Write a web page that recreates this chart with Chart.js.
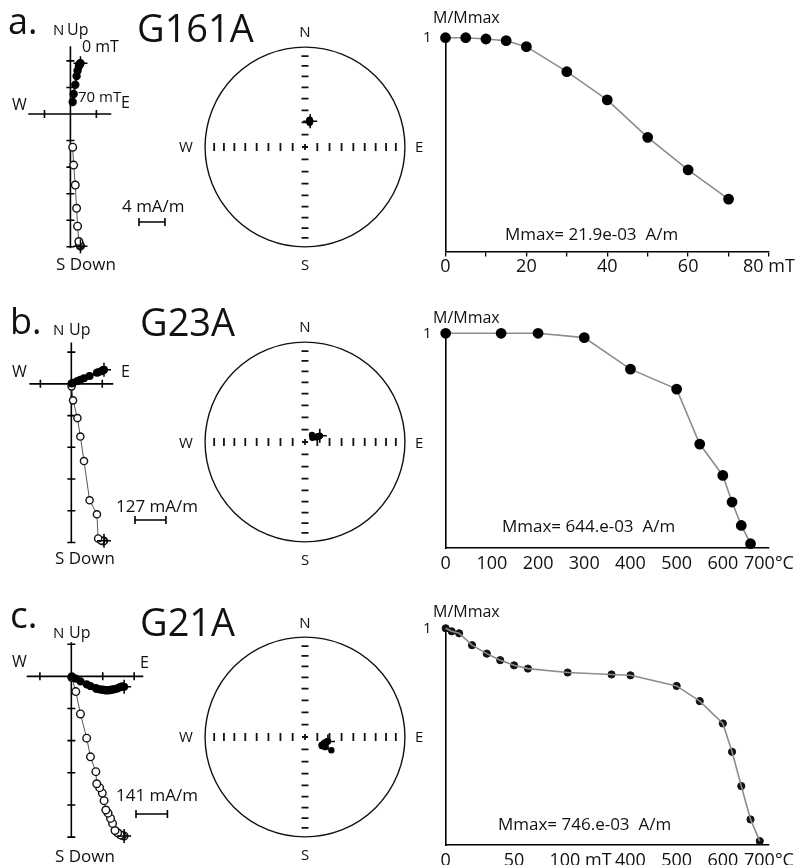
<!DOCTYPE html>
<html>
<head>
<meta charset="utf-8">
<title>Demagnetisation diagrams G161A, G23A, G21A</title>
<script src="https://cdn.jsdelivr.net/npm/chart.js@4.4.1/dist/chart.umd.min.js"></script>
<style>
  body { margin: 0; background: #fff; }
  #fig { position: relative; width: 795px; height: 865px; overflow: hidden; font-family: "Open Sans", sans-serif; color: #111; }
  #fig canvas { position: absolute; }
  .t { position: absolute; white-space: pre; line-height: 1; }
</style>
</head>
<body>
<div id="fig"></div>
<script>
// ---------- values ----------
// a. G161A  (AF steps, mT)
const aSteps = [0, 5, 10, 15, 20, 30, 40, 50, 60, 70];
const aMnorm = [1.0, 1.0, 0.994, 0.986, 0.958, 0.841, 0.709, 0.534, 0.382, 0.245];
const aEast  = [1.55, 1.5, 1.45, 1.4, 1.3, 1.1, 0.95, 0.75, 0.5, 0.35];   // mA/m
const aNorth = [7.65, 7.6, 7.5, 7.45, 7.2, 6.5, 5.7, 4.4, 3.0, 1.8];
const aDown  = [19.9, 19.8, 19.7, 19.6, 19.2, 16.9, 14.2, 10.7, 7.7, 5.0];
const aTicks = [0, 10, 20, 30, 40, 50, 60, 70, 80];
const aTickText = ['0', '', '20', '', '40', '', '60', '', '80 mT'];

// b. G23A  (thermal steps, °C)
const bSteps = [0, 120, 200, 300, 400, 500, 550, 600, 620, 640, 660];
const bMnorm = [1.0, 1.0, 1.0, 0.98, 0.833, 0.74, 0.484, 0.338, 0.214, 0.105, 0.02];
const bEast  = [134, 131, 122, 110, 105, 75, 52, 37, 25, 7, 1];           // mA/m
const bNorth = [56, 55, 50, 46, 44, 31, 22, 16, 11, 4, 1];
const bDown  = [628, 630, 627, 619, 522, 466, 309, 211, 137, 66, 10];
const bTicks = [0, 100, 200, 300, 400, 500, 600, 700];
const bTickText = ['0', '100', '200', '300', '400', '500', '600', '700°C'];

// c. G21A  (AF then thermal; position along the mixed axis)
const cStepPos = [0, 13, 29, 57, 89, 118, 148, 178, 264, 359, 400, 500, 550, 600, 620, 640, 660, 680];
const cMnorm = [1.0, 0.986, 0.977, 0.922, 0.883, 0.853, 0.829, 0.814, 0.796, 0.787, 0.783, 0.734, 0.664, 0.561, 0.43, 0.272, 0.118, 0.018];
const cEast  = [237, 229, 220, 208, 196, 185, 176, 165, 155, 147, 139, 127, 114, 110, 86, 69, 41, 20, 2];   // mA/m
const cNorth = [-46, -44, -47, -52, -56, -58, -60, -61, -61, -60, -59, -57, -54, -52, -43, -35, -22, -10, -1];
const cDown  = [700, 698, 695, 686, 676, 645, 623, 600, 586, 545, 512, 488, 471, 418, 353, 271, 165, 67, 5];
const cTicks = [0, 148, 292, 400, 500, 600, 700];
const cTickText = ['0', '50', '100 mT', '400', '500', '600', '700°C'];

const netTicks = [10, 20, 30, 40, 50, 60, 70, 80];   // inclination marks on the stereonet

// ---------- helpers ----------
Chart.defaults.font.family = "'Open Sans', sans-serif";
const fig = document.getElementById('fig');

function addCanvas(box) {
  const c = document.createElement('canvas');
  c.width = box.w; c.height = box.h;
  c.style.left = box.x + 'px'; c.style.top = box.y + 'px';
  c.style.width = box.w + 'px'; c.style.height = box.h + 'px';
  fig.appendChild(c);
  return c;
}

function text(str, x, base, size, align) {
  const d = document.createElement('div');
  d.className = 't';
  d.textContent = str;
  d.style.fontSize = size + 'px';
  d.style.left = x + 'px';
  d.style.top = (base - 0.888 * size) + 'px';
  if (align === 'c') d.style.transform = 'translateX(-50%)';
  fig.appendChild(d);
}

const eqArea = inc => Math.SQRT2 * Math.sin((90 - Math.abs(inc)) * Math.PI / 360);

function project(e, n, d) {
  const dec = Math.atan2(e, n);
  const inc = Math.atan2(d, Math.hypot(e, n)) * 180 / Math.PI;
  const r = eqArea(inc);
  return { x: r * Math.sin(dec), y: r * Math.cos(dec) };
}

const baseOpts = {
  responsive: false, animation: false, devicePixelRatio: 1,
  events: [],
  plugins: { legend: { display: false }, tooltip: { enabled: false } }
};

// orthogonal vector plot axes, tick marks and scale bar
const zijAxes = {
  id: 'zijAxes',
  beforeDatasetsDraw(chart, args, o) {
    const { ctx, scales: { x, y } } = chart;
    const x0 = x.getPixelForValue(0), y0 = y.getPixelForValue(0);
    ctx.save();
    ctx.strokeStyle = '#000';
    ctx.lineWidth = 1.6;
    ctx.beginPath();
    ctx.moveTo(x.getPixelForValue(o.xlim[0]), y0);
    ctx.lineTo(x.getPixelForValue(o.xlim[1]), y0);
    ctx.moveTo(x0, y.getPixelForValue(o.ylim[0]));
    ctx.lineTo(x0, y.getPixelForValue(o.ylim[1]));
    for (let k = Math.ceil(o.xlim[0] / o.unit); k <= Math.floor(o.xlim[1] / o.unit); k++) {
      if (!k) continue;
      const px = x.getPixelForValue(k * o.unit);
      ctx.moveTo(px, y0 - 4); ctx.lineTo(px, y0 + 4);
    }
    for (let k = Math.ceil(o.ylim[0] / o.unit); k <= Math.floor(o.ylim[1] / o.unit); k++) {
      if (!k) continue;
      const py = y.getPixelForValue(k * o.unit);
      ctx.moveTo(x0 - 4, py); ctx.lineTo(x0 + 4, py);
    }
    // scale bar = one tick unit
    const len = x.getPixelForValue(o.unit) - x0;
    const [bx, by] = o.bar;
    ctx.moveTo(bx, by); ctx.lineTo(bx + len, by);
    ctx.moveTo(bx, by - 4); ctx.lineTo(bx, by + 4);
    ctx.moveTo(bx + len, by - 4); ctx.lineTo(bx + len, by + 4);
    ctx.stroke();
    ctx.restore();
  }
};

// equal-area net: primitive circle and 10° inclination marks
const stereoNet = {
  id: 'stereoNet',
  beforeDatasetsDraw(chart) {
    const { ctx, scales: { x, y } } = chart;
    const cx = x.getPixelForValue(0), cy = y.getPixelForValue(0);
    const R = x.getPixelForValue(1) - cx;
    ctx.save();
    ctx.strokeStyle = '#111';
    ctx.lineWidth = 1.4;
    ctx.beginPath();
    ctx.arc(cx, cy, R, 0, 2 * Math.PI);
    ctx.stroke();
    ctx.lineWidth = 1.8;
    ctx.beginPath();
    netTicks.forEach(inc => {
      const r = eqArea(inc) * R;
      [-1, 1].forEach(s => {
        ctx.moveTo(cx + s * r, cy - 4); ctx.lineTo(cx + s * r, cy + 4);
        ctx.moveTo(cx - 3.5, cy + s * r); ctx.lineTo(cx + 3.5, cy + s * r);
      });
    });
    ctx.moveTo(cx - 3, cy); ctx.lineTo(cx + 3, cy);
    ctx.moveTo(cx, cy - 3); ctx.lineTo(cx, cy + 3);
    ctx.stroke();
    ctx.restore();
  }
};

function makeZij(box, origin, ppu, east, north, down, ax) {
  const pts = east.map((e, i) => ({ x: e, y: north[i] }));
  const vpts = east.map((e, i) => ({ x: e, y: -down[i] }));
  new Chart(addCanvas(box), {
    type: 'scatter',
    data: { datasets: [
      { data: [pts[0], vpts[0]], pointStyle: 'cross', pointRadius: 7, borderColor: '#000', borderWidth: 1.5, showLine: false, clip: false },
      { data: pts, showLine: true, borderColor: '#222', borderWidth: 2, pointRadius: ax.r, pointBackgroundColor: '#000', pointBorderColor: '#000', clip: false },
      { data: vpts, showLine: true, borderColor: '#555', borderWidth: 1, pointRadius: ax.r + 0.6, pointBackgroundColor: '#fff', pointBorderColor: '#111', pointBorderWidth: 1.4, clip: false }
    ] },
    options: {
      ...baseOpts,
      layout: { padding: 0 },
      plugins: { ...baseOpts.plugins, zijAxes: { xlim: ax.xlim, ylim: ax.ylim, unit: ax.unit, bar: [ax.bar[0] - box.x, ax.bar[1] - box.y] } },
      scales: {
        x: { type: 'linear', display: false, min: (box.x - origin[0]) / ppu, max: (box.x + box.w - origin[0]) / ppu },
        y: { type: 'linear', display: false, min: (origin[1] - box.y - box.h) / ppu, max: (origin[1] - box.y) / ppu }
      }
    },
    plugins: [zijAxes]
  });
}

function makeNet(center, R, east, north, down) {
  const half = 130, lim = half / R;
  const pts = east.map((e, i) => project(e, north[i], down[i]));
  new Chart(addCanvas({ x: center[0] - half, y: center[1] - half, w: 2 * half, h: 2 * half }), {
    type: 'scatter',
    data: { datasets: [
      { data: [pts[0]], pointStyle: 'cross', pointRadius: 7, borderColor: '#000', borderWidth: 1.6, clip: false },
      { data: pts, showLine: true, borderColor: '#222', borderWidth: 1.2, pointRadius: 2.6, pointBackgroundColor: '#000', pointBorderColor: '#000', clip: false }
    ] },
    options: {
      ...baseOpts,
      layout: { padding: 0 },
      scales: {
        x: { type: 'linear', display: false, min: -lim, max: lim },
        y: { type: 'linear', display: false, min: -lim, max: lim }
      }
    },
    plugins: [stereoNet]
  });
}

function makeDemag(box, cfg) {
  const xy = cfg.steps.map((s, i) => ({ x: s, y: cfg.m[i] }));
  const datasets = cfg.lineOnTop
    ? [
        { data: xy, showLine: true, pointRadius: 0, borderColor: '#8c8c8c', borderWidth: 1.6, order: 0, clip: false },
        { data: xy, showLine: false, pointRadius: cfg.r, pointBackgroundColor: '#111', pointBorderColor: '#111', order: 1, clip: false }
      ]
    : [{ data: xy, showLine: true, borderColor: '#8c8c8c', borderWidth: 1.6, pointRadius: cfg.r, pointBackgroundColor: '#000', pointBorderColor: '#000', clip: false }];
  new Chart(addCanvas(box), {
    type: 'scatter',
    data: { datasets },
    options: {
      ...baseOpts,
      layout: { padding: { top: cfg.padTop, right: cfg.padRight, left: 0, bottom: 0 } },
      scales: {
        x: {
          type: 'linear', min: 0, max: cfg.xMax,
          afterFit: s => { s.height = cfg.xH; },
          afterBuildTicks: s => { s.ticks = cfg.ticks.map(v => ({ value: v })); },
          grid: { display: cfg.tickMarks, drawOnChartArea: false, drawTicks: true, tickLength: 5, color: '#000', lineWidth: 1.3 },
          border: { display: true, color: '#000', width: 1.6 },
          ticks: { autoSkip: false, maxRotation: 0, minRotation: 0, padding: cfg.tickPad, color: '#111', font: { size: 18 },
                   callback: (v, i) => cfg.tickText[i] }
        },
        y: {
          type: 'linear', min: 0, max: 1,
          afterFit: s => { s.width = cfg.yW; },
          afterBuildTicks: s => { s.ticks = [{ value: 1 }]; },
          grid: { display: false },
          border: { display: true, color: '#000', width: 1.6 },
          ticks: { padding: 6, color: '#111', font: { size: 15 }, callback: () => '1' }
        }
      }
    }
  });
}

// ---------- row a ----------
makeZij({ x: 0, y: 30, w: 190, h: 250 }, [68, 111], 28.5 / 4, aEast, aNorth, aDown,
        { xlim: [-6.5, 6.3], ylim: [-20.2, 10.2], unit: 4, bar: [139, 222], r: 3.2 });
makeNet([305, 147], 107, aEast, aNorth, aDown);
makeDemag({ x: 420, y: 0, w: 375, h: 280 },
          { steps: aSteps, m: aMnorm, xMax: 80, ticks: aTicks, tickText: aTickText, tickMarks: true, tickPad: 0,
            padTop: 37.7, padRight: 26, xH: 28.5, yW: 25.5, r: 4.6 });

// ---------- row b ----------
makeZij({ x: 0, y: 320, w: 190, h: 255 }, [69, 379.3], 34 / 127, bEast, bNorth, bDown,
        { xlim: [-172, 172], ylim: [-636, 165], unit: 127, bar: [135, 520], r: 3 });
makeNet([305, 441.5], 107, bEast, bNorth, bDown);
makeDemag({ x: 420, y: 285, w: 375, h: 290 },
          { steps: bSteps, m: bMnorm, xMax: 700, ticks: bTicks, tickText: bTickText, tickMarks: false, tickPad: 0,
            padTop: 48.3, padRight: 26, xH: 27, yW: 25.7, r: 4.6 });

// ---------- row c ----------
makeZij({ x: 0, y: 615, w: 190, h: 250 }, [69, 671.7], 34.5 / 141, cEast, cNorth, cDown,
        { xlim: [-200, 323], ylim: [-706, 150], unit: 141, bar: [136, 814], r: 3.2 });
makeNet([305, 736.5], 107, cEast, cNorth, cDown);
makeDemag({ x: 420, y: 575, w: 375, h: 290 },
          { steps: cStepPos, m: cMnorm, xMax: 700, ticks: cTicks, tickText: cTickText, tickMarks: false, tickPad: 0.5,
            padTop: 53.3, padRight: 26, xH: 20, yW: 25.7, r: 3.6, lineOnTop: true });

// ---------- labels ----------
// row a
text('a.', 8, 35, 36);
text('G161A', 137, 42, 38);
text('N', 53, 35, 15); text('Up', 67, 35, 16);
text('0 mT', 82, 52, 16);
text('70 mT', 78, 102, 15);
text('E', 121, 108, 16);
text('W', 12, 110, 16);
text('S Down', 56, 270, 17);
text('4 mA/m', 122, 212, 17);
text('N', 305, 37, 15, 'c'); text('S', 305, 270, 15, 'c');
text('W', 179, 152, 15); text('E', 415, 152, 15);
text('M/Mmax', 433, 23, 16);
text('Mmax= 21.9e-03  A/m', 505, 240, 17);

// row b
text('b.', 10, 335, 36);
text('G23A', 140, 336, 38);
text('N', 53, 335, 15); text('Up', 69, 335, 16);
text('W', 12, 377, 16); text('E', 121, 377, 16);
text('S Down', 55, 564, 17);
text('127 mA/m', 116, 512, 17);
text('N', 305, 332, 15, 'c'); text('S', 305, 565, 15, 'c');
text('W', 179, 448, 15); text('E', 415, 448, 15);
text('M/Mmax', 433, 323, 16);
text('Mmax= 644.e-03  A/m', 502, 532, 17);

// row c
text('c.', 10, 628, 37);
text('G21A', 140, 636, 38);
text('N', 53, 638, 15); text('Up', 69, 638, 16);
text('W', 12, 667, 16); text('E', 140, 668, 16);
text('S Down', 55, 862, 17);
text('141 mA/m', 116, 801, 17);
text('N', 305, 628, 15, 'c'); text('S', 305, 860, 15, 'c');
text('W', 179, 742, 15); text('E', 415, 742, 15);
text('M/Mmax', 433, 617, 16);
text('Mmax= 746.e-03  A/m', 498, 830, 17);
</script>
</body>
</html>
